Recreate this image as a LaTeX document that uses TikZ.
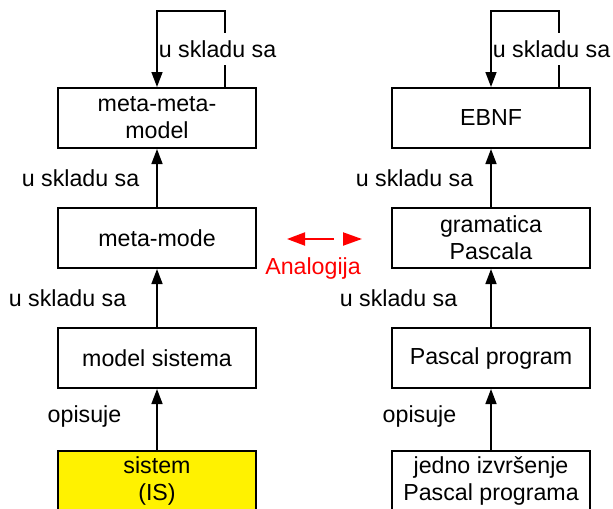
\documentclass[tikz,border=0pt]{standalone}
\usepackage{fontspec}
\setmainfont{Liberation Sans}
\usetikzlibrary{arrows.meta}

\begin{document}
\fontsize{11.6}{13.4}\selectfont
\begin{tikzpicture}[x=0.5pt,y=-0.5pt,
    box/.style={draw,line width=1pt,minimum width=99pt,minimum height=30pt,align=center,inner sep=0pt},
    arr/.style={line width=0.75pt,-{Triangle[length=7.5pt,width=5.5pt]}},
    lbl/.style={inner sep=0pt}]
    \clip (0,0) rectangle (613,508);

    % levels of modelling
    \node[box] (mmm) at (157,118) {meta-meta-\\model};
    \node[box] (mm) at (157,238) {meta-mode};
    \node[box] (model) at (157,358) {model sistema};
    \node[box,fill=yellow] (sistem) at (157,481) {sistem\\(IS)};

    % the Pascal side
    \node[box] (ebnf) at (491,118) {EBNF};
    \node[box] (gram) at (491,238) {gramatica\\Pascala};
    \node[box] (prog) at (491,358) {Pascal program};
    \node[box] (izvr) at (491,481) {jedno izvršenje\\Pascal programa};

    \draw[arr] (mm) -- node[lbl,midway,left=8.5pt] {u skladu sa} (mmm);
    \draw[arr] (model) -- node[lbl,midway,left=15pt] {u skladu sa} (mm);
    \draw[arr] (sistem) -- node[lbl,pos=0.55,left=17.5pt] {opisuje} (model);

    \draw[arr] (gram) -- node[lbl,midway,left=8.5pt] {u skladu sa} (ebnf);
    \draw[arr] (prog) -- node[lbl,midway,left=16.5pt] {u skladu sa} (gram);
    \draw[arr] (izvr) -- node[lbl,pos=0.55,left=17pt] {opisuje} (prog);

    % self loops on top
    \draw[arr] ([xshift=34pt]mmm.north) -- ++(0,38pt) -| (mmm.north);
    \node[anchor=west,fill=white,inner xsep=0pt,inner ysep=3.8pt] (loopA) at (158.5,49) {u skladu sa};
    \draw[arr] ([xshift=34pt]ebnf.north) -- ++(0,38pt) -| (ebnf.north);
    \node[anchor=west,fill=white,inner xsep=0pt,inner ysep=3.8pt] (loopB) at (492.5,49) {u skladu sa};

    % analogy between the two columns
    \coordinate (anL) at (287,239);
    \coordinate (anM) at (334,239);
    \coordinate (anR) at (343,239);
    \coordinate (anE) at (362,239);
    \draw[red,line width=1pt,-{Triangle[length=9pt,width=6.5pt]}] (anM) -- (anL);
    \draw[red,line width=1pt,-{Triangle[length=9.5pt,width=6.5pt]}] (anR) -- (anE);
    \node[red] (analog) at (313,268) {Analogija};
\end{tikzpicture}
\end{document}
